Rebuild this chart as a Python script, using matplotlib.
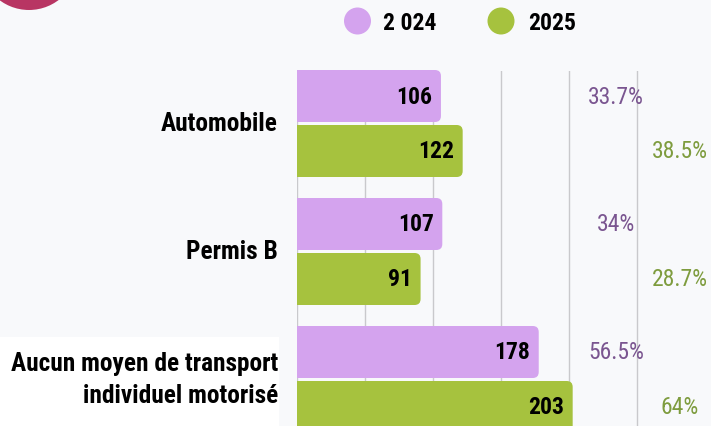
import matplotlib
matplotlib.use("Agg")
import matplotlib.pyplot as plt
from matplotlib import font_manager
from matplotlib.patches import FancyBboxPatch, Circle, Rectangle

categories = ["Automobile", "Permis B", "Aucun moyen de transport\nindividuel motorisé"]
series_names = ["2 024", "2025"]
values_2024 = [106, 107, 178]
values_2025 = [122, 91, 203]
pct_2024 = ["33.7%", "34%", "56.5%"]
pct_2025 = ["38.5%", "28.7%", "64%"]

purple = "#d4a3ee"
green = "#a6c23e"
purple_txt = "#7a5590"
green_txt = "#7e9c3e"
bg = "#f8f9fb"

names = {f.name for f in font_manager.fontManager.ttflist}
cond = any(f.name == "DejaVu Sans" and f.stretch == "condensed"
           for f in font_manager.fontManager.ttflist)
if "Roboto Condensed" in names:
    fam, stretch = "Roboto Condensed", "normal"
elif cond:
    fam, stretch = "DejaVu Sans", "condensed"
else:
    fam, stretch = "Roboto", "normal"
plt.rcParams["font.family"] = [fam, "DejaVu Sans"]
plt.rcParams["font.stretch"] = stretch

W, H = 711, 427
fig = plt.figure(figsize=(W / 100, H / 100), dpi=100, facecolor=bg)
inch = fig.dpi_scale_trans


def px(x, y):
    # pixel position (from top-left) -> inches for dpi_scale_trans
    return (x / 100, (H - y) / 100)


# white box behind the last label, red disc in the corner
fig.patches.append(Rectangle((0, 0), 279 / W, (H - 338) / H, transform=fig.transFigure,
                             facecolor="white", edgecolor="none", zorder=0))
fig.patches.append(Circle(px(29, -38), 49 / 100, transform=inch,
                          facecolor="#b83563", edgecolor="none"))

ax_top = 72
ylim_bottom = 2.5
ytop = -(124.5 - ax_top) / 128
ax_bottom_px = 124.5 + ylim_bottom * 128
ax = fig.add_axes([297 / W, (H - ax_bottom_px) / H, 407.4 / W, (ax_bottom_px - ax_top) / H])
ax.set_facecolor("none")
ax.set_xlim(0, 300)
ax.set_ylim(ylim_bottom, ytop)

for s in ax.spines.values():
    s.set_visible(False)
ax.set_xticks([])
ax.set_yticks([])
for gx in [0, 50, 100, 150, 200, 250]:
    ax.axvline(gx, color="#c9c9cc", lw=1, zorder=1)

h = 52 / 128
off = 27.5 / 128
xpx = 407.4 / 300   # px per x unit
r = 6  # corner radius in px
aspect = (1 / 128) / (1 / xpx)
rr = r / xpx

for vals, col, sign, pcts, pcol, pxx in [(values_2024, purple, -1, pct_2024, purple_txt, 235),
                                         (values_2025, green, 1, pct_2025, green_txt, 282)]:
    bars = ax.barh([i + sign * off for i in range(len(vals))], vals, height=h,
                   color=col, alpha=0)
    for b, v, p in zip(bars, vals, pcts):
        x0, y0 = b.get_x(), b.get_y()
        bw, bh = b.get_width(), b.get_height()
        patch = FancyBboxPatch((x0, y0 + rr * aspect), bw - rr, bh - 2 * rr * aspect,
                               boxstyle=f"round,pad={rr},rounding_size={rr}",
                               mutation_aspect=aspect, facecolor=col, edgecolor="none",
                               zorder=2, clip_on=False)
        ax.add_patch(patch)
        yc = y0 + bh / 2
        ax.annotate(str(v), (bw, yc), xytext=(-6, 0), textcoords="offset points",
                    ha="right", va="center", fontsize=17, fontweight="bold",
                    color="black", zorder=3)
        ax.text(pxx, yc, p, ha="center", va="center", fontsize=17, color=pcol,
                clip_on=False, zorder=3)

# hide the rounded left ends behind the axis
ax.add_patch(Rectangle((-rr - 1, ytop - 1), rr + 1, 5, facecolor=bg, edgecolor="none",
                       zorder=2.5, clip_on=False))

for i, c in enumerate(categories):
    fig.text(278 / W, 1 - (124 + i * 128) / H, c, ha="right", va="center",
             fontsize=18.3, fontweight="bold", linespacing=1.4, color="black",
             zorder=5)

# legend
for cx, tx, col, name in [(357.5, 383, purple, series_names[0]),
                          (501, 528, green, series_names[1])]:
    fig.patches.append(Circle(px(cx, 22), 13.5 / 100, transform=inch,
                              facecolor=col, edgecolor="none"))
    fig.text(tx / W, 1 - 23 / H, name, ha="left", va="center", fontsize=17,
             fontweight="bold", color="black")

fig.savefig("out.png", dpi=100, facecolor=bg)
